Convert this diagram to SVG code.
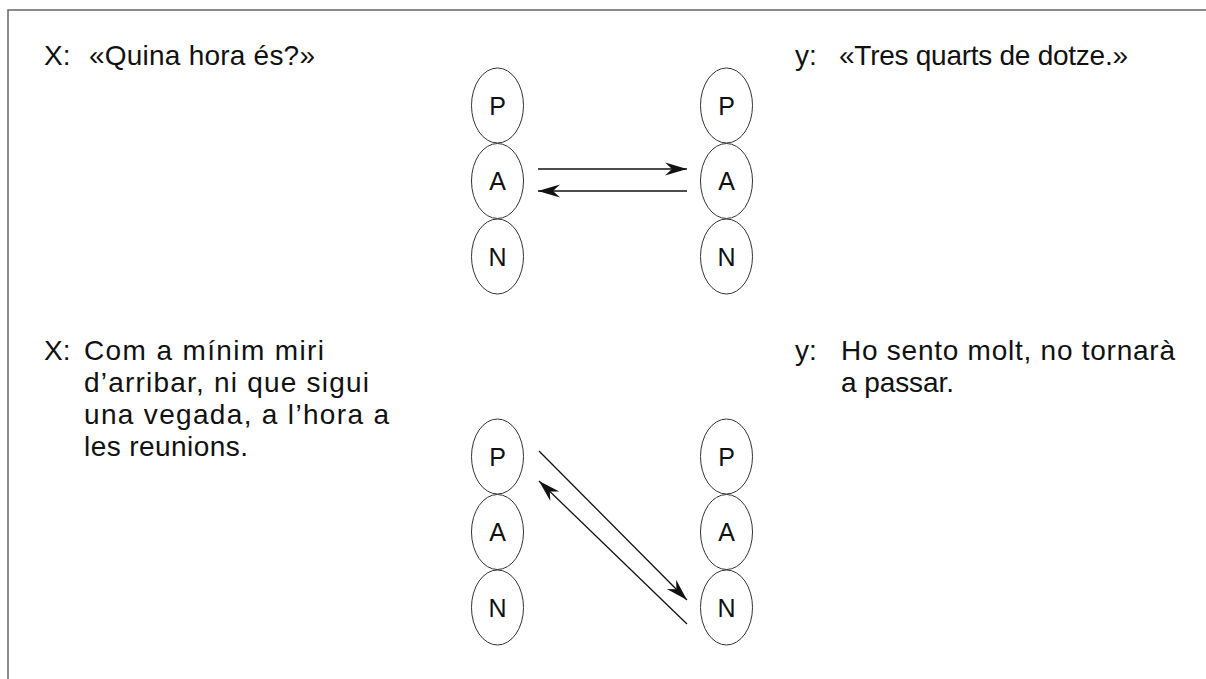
<svg xmlns="http://www.w3.org/2000/svg" width="1206" height="679" viewBox="0 0 1206 679">
<style>
  .t { font-family: "Liberation Sans", "DejaVu Sans", sans-serif; font-size: 28px; fill: #111; }
  .lbl { font-family: "Liberation Sans", "DejaVu Sans", sans-serif; font-size: 25px; fill: #111; text-anchor: middle; }
  .ell { fill: #fff; stroke: #333; stroke-width: 1; }
  .arr { stroke: #111; stroke-width: 1.3; fill: none; marker-end: url(#ah); }
  .frame { stroke: #666; stroke-width: 1.5; fill: none; }
</style>
<defs>
  <marker id="ah" markerUnits="userSpaceOnUse" viewBox="-23 -8 24 16" markerWidth="24" markerHeight="16" refX="0" refY="0" orient="auto">
    <path d="M0,0 L-22,-6.5 L-15,0 L-22,6.5 Z" fill="#111"/>
  </marker>
</defs>
<rect width="1206" height="679" fill="#fff"/>
<path class="frame" d="M8,679 L8,10 L1206,10"/>

<g id="texts">
  <g id="x1"><text class="t" x="44" y="65">X:</text><text class="t" x="89" y="65" textLength="226" lengthAdjust="spacing">«Quina hora és?»</text></g>
  <g id="y1"><text class="t" x="795" y="65">y:</text><text class="t" x="839" y="65" textLength="289" lengthAdjust="spacing">«Tres quarts de dotze.»</text></g>
  <g id="x2"><text class="t" x="44" y="360">X:</text>
    <text class="t" x="84" y="360" textLength="240" lengthAdjust="spacing">Com a mínim miri</text>
    <text class="t" x="84" y="392" textLength="285" lengthAdjust="spacing">d’arribar, ni que sigui</text>
    <text class="t" x="84" y="424" textLength="305" lengthAdjust="spacing">una vegada, a l’hora a</text>
    <text class="t" x="84" y="456" textLength="164" lengthAdjust="spacing">les reunions.</text></g>
  <g id="y2"><text class="t" x="795" y="360">y:</text>
    <text class="t" x="841" y="360" textLength="334" lengthAdjust="spacing">Ho sento molt, no tornarà</text>
    <text class="t" x="841" y="392" textLength="113" lengthAdjust="spacing">a passar.</text></g>
</g>

<g id="d1-left-P"><ellipse class="ell" cx="497.5" cy="105.5" rx="26" ry="37.5"/><text class="lbl" x="497.5" y="114.5">P</text></g>
<g id="d1-left-A"><ellipse class="ell" cx="497.5" cy="181" rx="26" ry="37.5"/><text class="lbl" x="497.5" y="190">A</text></g>
<g id="d1-left-N"><ellipse class="ell" cx="497.5" cy="256.5" rx="26" ry="37.5"/><text class="lbl" x="497.5" y="265.5">N</text></g>
<g id="d1-right-P"><ellipse class="ell" cx="726.5" cy="105.5" rx="26" ry="37.5"/><text class="lbl" x="726.5" y="114.5">P</text></g>
<g id="d1-right-A"><ellipse class="ell" cx="726.5" cy="181" rx="26" ry="37.5"/><text class="lbl" x="726.5" y="190">A</text></g>
<g id="d1-right-N"><ellipse class="ell" cx="726.5" cy="256.5" rx="26" ry="37.5"/><text class="lbl" x="726.5" y="265.5">N</text></g>

<g id="d2-left-P"><ellipse class="ell" cx="497.5" cy="456.5" rx="26" ry="37.5"/><text class="lbl" x="497.5" y="465.5">P</text></g>
<g id="d2-left-A"><ellipse class="ell" cx="497.5" cy="532" rx="26" ry="37.5"/><text class="lbl" x="497.5" y="541">A</text></g>
<g id="d2-left-N"><ellipse class="ell" cx="497.5" cy="607.5" rx="26" ry="37.5"/><text class="lbl" x="497.5" y="616.5">N</text></g>
<g id="d2-right-P"><ellipse class="ell" cx="726.5" cy="456.5" rx="26" ry="37.5"/><text class="lbl" x="726.5" y="465.5">P</text></g>
<g id="d2-right-A"><ellipse class="ell" cx="726.5" cy="532" rx="26" ry="37.5"/><text class="lbl" x="726.5" y="541">A</text></g>
<g id="d2-right-N"><ellipse class="ell" cx="726.5" cy="607.5" rx="26" ry="37.5"/><text class="lbl" x="726.5" y="616.5">N</text></g>

<g id="connectors">
  <line class="arr" x1="538" y1="169" x2="687" y2="169"/>
  <line class="arr" x1="687" y1="191" x2="538" y2="191"/>
  <line class="arr" x1="539" y1="451" x2="687" y2="600"/>
  <line class="arr" x1="687" y1="624" x2="539" y2="481"/>
</g>
</svg>
